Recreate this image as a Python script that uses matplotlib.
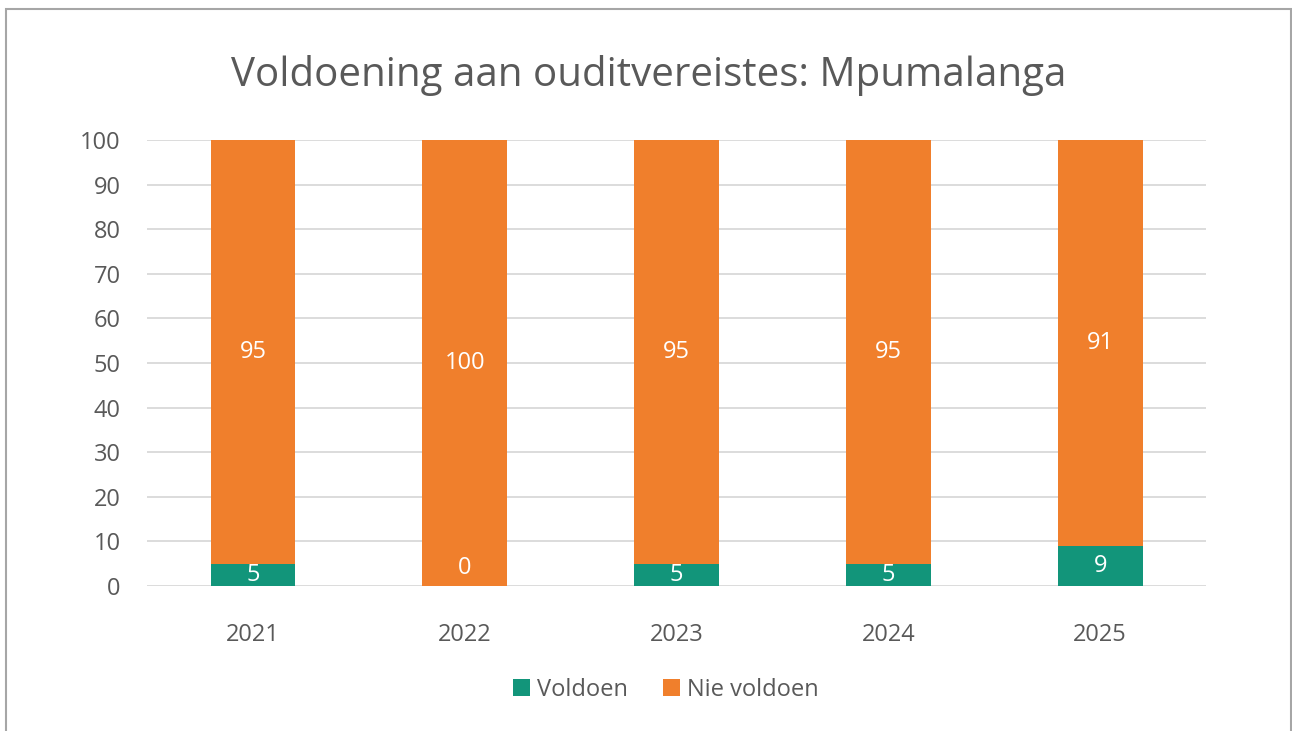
import matplotlib.pyplot as plt
from matplotlib.patches import Rectangle

# chart data
years = ["2021", "2022", "2023", "2024", "2025"]
voldoen = [5, 0, 5, 5, 9]
nie_voldoen = [95, 100, 95, 95, 91]
yticks = list(range(0, 101, 10))

green = "#12957a"
orange = "#f07f2c"
text_grey = "#595959"

plt.rcParams["font.family"] = ["Open Sans", "DejaVu Sans"]

fig = plt.figure(figsize=(12.92, 7.31), dpi=100)
ax = fig.add_axes([0.1138, 0.1984, 0.8197, 0.6101])

x = range(len(years))
b1 = ax.bar(x, voldoen, width=0.4, color=green, label="Voldoen", zorder=3)
b2 = ax.bar(x, nie_voldoen, width=0.4, bottom=voldoen, color=orange,
            label="Nie voldoen", zorder=3)

# value labels in the middle of each segment
for i, v in enumerate(voldoen):
    ax.text(i, v / 2 if v > 0 else 4, str(v), ha="center", va="center",
            color="white", fontsize=17, zorder=4)
for i, v in enumerate(nie_voldoen):
    ax.text(i, voldoen[i] + v / 2, str(v), ha="center", va="center",
            color="white", fontsize=17, zorder=4)

ax.set_xlim(-0.5, len(years) - 0.5)
ax.set_ylim(0, 100)
ax.set_yticks(yticks)
ax.set_xticks(list(x))
ax.set_xticklabels(years)
ax.tick_params(axis="both", length=0, labelsize=17, colors=text_grey)
ax.tick_params(axis="x", pad=27)
ax.tick_params(axis="y", pad=19)
ax.grid(axis="y", color="#d9d9d9", linewidth=1.3, zorder=0)
for s in ax.spines.values():
    s.set_visible(False)

fig.text(0.502, 0.897, "Voldoening aan ouditvereistes: Mpumalanga",
         ha="center", va="center", fontsize=29, color=text_grey)

ax.legend(loc="center", bbox_to_anchor=(0.49, -0.233), ncol=2, frameon=False,
          fontsize=17, labelcolor=text_grey, handlelength=0.7, handleheight=0.7,
          handletextpad=0.3, columnspacing=1.5)

# outer frame
fig.patches.append(Rectangle((6 / 1292, -0.1), 1285 / 1292, 1.1 - 9 / 731,
                             transform=fig.transFigure, fill=False,
                             edgecolor="#a6a6a6", linewidth=1.5))

fig.savefig("out.png", dpi=100)
